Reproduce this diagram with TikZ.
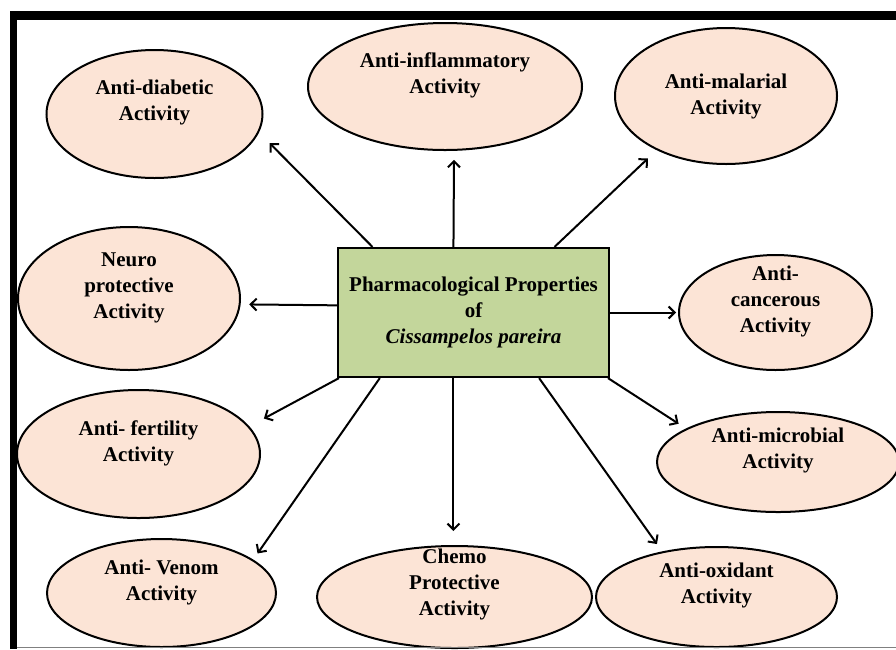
\documentclass[tikz,border=0pt]{standalone}
\usepackage{fontspec}
\setmainfont{Liberation Serif}
\usetikzlibrary{shapes.geometric,arrows.meta}
\definecolor{peach}{RGB}{252,228,214}
\definecolor{sage}{RGB}{195,214,155}
\tikzset{
  activity/.style={ellipse,draw,line width=2pt,fill=peach,inner sep=0pt},
  actlabel/.style={align=center,font=\fontsize{21}{26}\selectfont\bfseries},
  hubbox/.style={draw,line width=2.2pt,fill=sage,inner sep=0pt,
    minimum width=271pt,minimum height=129pt}
}
\begin{document}
\begin{tikzpicture}[x=1pt,y=-1pt]
      \useasboundingbox (0,0) rectangle (896,649);
      % frame
      \fill (10,11) rectangle (896,20);
      \fill (10,11) rectangle (17,649);
      % centre
      \node[hubbox,actlabel] (hub) at (473.5,312.5)
        {Pharmacological Properties\\of\\\textit{Cissampelos pareira}};
      % activities
      \node[activity,minimum width=216pt,minimum height=128pt] (diab) at (154.5,114) {};
      \node[activity,minimum width=274pt,minimum height=127pt] (infl) at (445,86.5) {};
      \node[activity,minimum width=222pt,minimum height=136pt] (mala) at (726,96) {};
      \node[activity,minimum width=222pt,minimum height=143pt] (neuro) at (129,298.5) {};
      \node[activity,minimum width=193pt,minimum height=115pt] (canc) at (775.5,312.5) {};
      \node[activity,minimum width=243pt,minimum height=128pt] (fert) at (138.5,454) {};
      \node[activity,minimum width=242pt,minimum height=100pt] (micro) at (778,462) {};
      \node[activity,minimum width=229pt,minimum height=108pt] (venom) at (161.5,593) {};
      \node[activity,minimum width=275pt,minimum height=102pt] (chemo) at (454.5,597) {};
      \node[activity,minimum width=241pt,minimum height=100pt] (oxid) at (716.5,597) {};
      \node[actlabel] (diab-t) at ([yshift=12pt]diab.center) {Anti-diabetic\\Activity};
      \node[actlabel] (infl-t) at ([yshift=11pt]infl.center) {Anti-inflammatory\\Activity};
      \node[actlabel] (mala-t) at (mala.center) {Anti-malarial\\Activity};
      \node[actlabel] (neuro-t) at ([yshift=11pt]neuro.center) {Neuro\\protective\\Activity};
      \node[actlabel] (canc-t) at ([yshift=11pt]canc.center) {Anti-\\cancerous\\Activity};
      \node[actlabel] (fert-t) at ([yshift=11pt]fert.center) {Anti- fertility\\Activity};
      \node[actlabel] (micro-t) at ([yshift=12pt]micro.center) {Anti-microbial\\Activity};
      \node[actlabel] (venom-t) at ([yshift=11pt]venom.center) {Anti- Venom\\Activity};
      \node[actlabel] (chemo-t) at ([yshift=13pt]chemo.center) {Chemo\\Protective\\Activity};
      \node[actlabel] (oxid-t) at ([yshift=12pt]oxid.center) {Anti-oxidant\\Activity};
      \begin{scope}[->,line width=2pt,>={Straight Barb[length=6pt,width=12pt]}]
        \draw[shorten >=15pt] (hub.147.3) to (diab.-10.1);
        \draw[shorten >=9pt] (hub.107.6) to (infl.-82.8);
        \draw[shorten >=12pt] (hub.39.05) to (mala.218.2);
        \draw[shorten >=8.6pt] (hub.177.25) to (neuro.-3.9);
        \draw[shorten >=2pt] (hub.east) to (canc.west);
        \draw[shorten >=16.5pt] (hub.206.7) to (fert.14.8);
        \draw[shorten >=8.8pt] (hub.-26.5) to (micro.160.8);
        \draw[shorten >=7.5pt] (hub.-145.4) to (venom.20.8);
        \draw[shorten >=14pt] (hub.-107.6) to (hub.-107.6 |- chemo.north);
        \draw[shorten >=9pt] (hub.-45) to (oxid.140.5);
      \end{scope}
      \draw[gray,line width=1pt] (17,647.5) -- (896,647.5);
    \end{tikzpicture}
\end{document}
